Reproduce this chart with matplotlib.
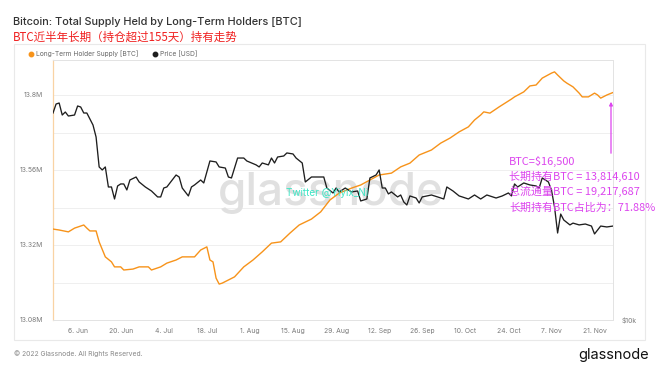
import matplotlib
matplotlib.use("Agg")
import matplotlib.pyplot as plt
from matplotlib.lines import Line2D
from matplotlib.patches import Rectangle, FancyArrowPatch
from matplotlib.ticker import FixedLocator, NullLocator
import pandas as pd

# ---------------- data ----------------
supply_dates = ["2022-05-29","2022-05-31","2022-06-03","2022-06-05","2022-06-08","2022-06-09","2022-06-10","2022-06-12",
    "2022-06-13","2022-06-15","2022-06-17","2022-06-18","2022-06-20","2022-06-21","2022-06-24","2022-06-26",
    "2022-06-29","2022-06-30","2022-07-03","2022-07-05","2022-07-08","2022-07-10","2022-07-14","2022-07-16",
    "2022-07-18","2022-07-19","2022-07-20","2022-07-21","2022-07-22","2022-07-23","2022-07-27","2022-07-30",
    "2022-08-02","2022-08-05","2022-08-08","2022-08-11","2022-08-14","2022-08-17","2022-08-21","2022-08-24",
    "2022-08-27","2022-08-30","2022-09-03","2022-09-06","2022-09-09","2022-09-12","2022-09-16","2022-09-19",
    "2022-09-22","2022-09-25","2022-09-29","2022-10-02","2022-10-05","2022-10-08","2022-10-11","2022-10-13",
    "2022-10-15","2022-10-16","2022-10-18","2022-10-21","2022-10-25","2022-10-26","2022-10-29","2022-10-31",
    "2022-11-02","2022-11-04","2022-11-07","2022-11-08","2022-11-09","2022-11-11","2022-11-12","2022-11-14",
    "2022-11-16","2022-11-17","2022-11-19","2022-11-21","2022-11-22","2022-11-23","2022-11-25","2022-11-27"]
supply_millions = [13.371,13.368,13.362,13.374,13.384,13.374,13.365,13.365,
    13.330,13.282,13.266,13.250,13.250,13.240,13.243,13.250,
    13.250,13.240,13.250,13.262,13.272,13.282,13.282,13.304,
    13.314,13.272,13.266,13.214,13.195,13.198,13.218,13.250,
    13.272,13.298,13.326,13.330,13.358,13.384,13.403,13.426,
    13.464,13.486,13.502,13.512,13.528,13.544,13.550,13.570,
    13.582,13.608,13.624,13.646,13.662,13.682,13.698,13.720,
    13.736,13.746,13.742,13.762,13.787,13.794,13.810,13.829,
    13.832,13.854,13.870,13.874,13.864,13.845,13.838,13.826,
    13.806,13.794,13.794,13.806,13.800,13.790,13.800,13.808]

price_dates = ["2022-05-29","2022-05-30","2022-05-31","2022-06-01","2022-06-02","2022-06-03","2022-06-05","2022-06-06",
    "2022-06-07","2022-06-08","2022-06-09","2022-06-10","2022-06-11","2022-06-12","2022-06-13","2022-06-14",
    "2022-06-15","2022-06-16","2022-06-17","2022-06-18","2022-06-19","2022-06-20","2022-06-21","2022-06-22",
    "2022-06-23","2022-06-25","2022-06-26","2022-06-28","2022-06-30","2022-07-02","2022-07-03","2022-07-04",
    "2022-07-05","2022-07-08","2022-07-09","2022-07-10","2022-07-12","2022-07-13","2022-07-14","2022-07-16",
    "2022-07-17","2022-07-19","2022-07-21","2022-07-22","2022-07-24","2022-07-25","2022-07-26","2022-07-28",
    "2022-07-30","2022-07-31","2022-08-03","2022-08-04","2022-08-05","2022-08-07","2022-08-08","2022-08-09",
    "2022-08-10","2022-08-12","2022-08-13","2022-08-15","2022-08-16","2022-08-18","2022-08-19","2022-08-21",
    "2022-08-23","2022-08-25","2022-08-26","2022-08-28","2022-08-29","2022-08-30","2022-09-01","2022-09-03",
    "2022-09-05","2022-09-06","2022-09-08","2022-09-09","2022-09-11","2022-09-12","2022-09-13","2022-09-14",
    "2022-09-15","2022-09-16","2022-09-18","2022-09-19","2022-09-20","2022-09-21","2022-09-22","2022-09-24",
    "2022-09-25","2022-09-26","2022-09-29","2022-10-01","2022-10-03","2022-10-04","2022-10-06","2022-10-08",
    "2022-10-09","2022-10-11","2022-10-13","2022-10-15","2022-10-17","2022-10-20","2022-10-22","2022-10-24",
    "2022-10-25","2022-10-26","2022-10-27","2022-10-29","2022-10-31","2022-11-02","2022-11-03","2022-11-04",
    "2022-11-06","2022-11-07","2022-11-08","2022-11-09","2022-11-10","2022-11-11","2022-11-13","2022-11-14",
    "2022-11-16","2022-11-18","2022-11-20","2022-11-21","2022-11-23","2022-11-25","2022-11-27"]
price_usd = [30140,31620,31790,29820,30300,29660,29820,31290,
    31120,30140,30140,29190,28270,26520,22610,22250,
    22610,20320,20320,19060,20430,20650,20650,20000,
    21090,21430,20870,20320,19890,19270,19270,20210,
    20320,21660,21430,20210,19370,20320,20540,21090,
    20760,23340,23220,22610,22480,21430,21320,23710,
    23710,23340,22860,22610,23090,22860,23710,23090,
    23840,23970,24360,24230,23710,23090,20870,21430,
    21430,21430,20210,19680,20210,19790,20210,19790,
    19890,18860,19060,21320,21660,22250,20210,20210,
    19580,19790,19270,19470,18760,18460,19370,19160,
    18660,19270,19470,19270,19060,20320,19890,19370,
    19270,19060,19470,19060,19470,19160,19370,19680,
    19370,20650,20320,20760,20540,20430,20210,21320,
    20870,20000,18260,15900,17590,17040,16600,16760,
    16600,16680,16500,15820,16500,16420,16500]

x_tick_dates = ["2022-06-06","2022-06-20","2022-07-04","2022-07-18","2022-08-01","2022-08-15","2022-08-29",
                "2022-09-12","2022-09-26","2022-10-10","2022-10-24","2022-11-07","2022-11-21"]
x_tick_labels = ["6. Jun","20. Jun","4. Jul","18. Jul","1. Aug","15. Aug","29. Aug",
                 "12. Sep","26. Sep","10. Oct","24. Oct","7. Nov","21. Nov"]
y_grid_values = [13.08, 13.20, 13.32, 13.44, 13.56, 13.68, 13.80, 13.92]
y_tick_labels = ["13.08M", "", "13.32M", "", "13.56M", "", "13.8M", ""]

title = "Bitcoin: Total Supply Held by Long-Term Holders [BTC]"
subtitle = "BTC近半年长期（持仓超过155天）持有走势"
legend_labels = ["Long-Term Holder Supply [BTC]", "Price [USD]"]
annotation_lines = ["BTC=$16,500", "长期持有BTC = 13,814,610", "总流通量BTC = 19,217,687", "长期持有BTC占比为：71.88%"]

# ---------------- style ----------------
ORANGE = "#f7931a"
BLACK = "#1e1e1e"
GRAY = "#7a7a7a"
MAGENTA = "#dc45ee"
LAT = ["Inter", "DejaVu Sans"]
CJK = ["Noto Sans CJK SC", "DejaVu Sans"]

W, H = 660, 372
fig = plt.figure(figsize=(W / 100, H / 100), dpi=100)
fig.patch.set_facecolor("white")

def fx(px):
    return px / W

def fy(py):
    return 1 - py / H

# panel border
fig.add_artist(Rectangle((fx(14), fy(340)), fx(645) - fx(14), fy(44) - fy(340),
                         transform=fig.transFigure, fill=False, edgecolor="#e9e9e9", lw=0.8))

ax = fig.add_axes([fx(53), fy(320), fx(613) - fx(53), fy(60) - fy(320)])
ax.set_facecolor("white")

sd = pd.to_datetime(supply_dates)
pdts = pd.to_datetime(price_dates)

ax.set_ylim(13.08, 13.08 + 260 * 0.0032)
ax.yaxis.set_major_locator(FixedLocator(y_grid_values))
ax.set_yticklabels(y_tick_labels)
ax.grid(axis="y", color="#efefef", lw=0.7)
ax.set_axisbelow(True)
ax.tick_params(axis="y", length=0, pad=7, labelsize=4.9, labelcolor=GRAY)
for lab in ax.get_yticklabels():
    lab.set_family(LAT)

ax.plot(sd, supply_millions, color=ORANGE, lw=1.0, zorder=3, solid_joinstyle="round")

xmin = pd.Timestamp("2022-05-29")
xmax = pd.Timestamp("2022-11-27")
ax.set_xlim(xmin, xmax)
ax.set_xticks(pd.to_datetime(x_tick_dates))
ax.set_xticklabels(x_tick_labels, family=LAT)
ax.tick_params(axis="x", length=0, pad=5.5, labelsize=4.9, labelcolor=GRAY)

for s in ["top", "right", "bottom"]:
    ax.spines[s].set_color("#e3e3e3")
    ax.spines[s].set_linewidth(0.7)
ax.spines["left"].set_color("#f9d3a4")
ax.spines["left"].set_linewidth(0.9)

# watermark
ax.text(0.496, 0.49, "glassnode", transform=ax.transAxes, ha="center", va="center",
        fontsize=33, color="#e0e0e0", family=LAT, fontweight="medium", zorder=1)

ax2 = ax.twinx()
ax2.set_yscale("log")
ax2.set_ylim(1e4, 10 ** (4 + 260 / 432))
ax2.plot(pdts, price_usd, color=BLACK, lw=0.95, zorder=3, solid_joinstyle="round")
ax2.yaxis.set_major_locator(FixedLocator([1e4]))
ax2.yaxis.set_minor_locator(NullLocator())
ax2.set_yticklabels(["$10k"], family=LAT)
ax2.tick_params(axis="y", length=0, pad=6, labelsize=4.9, labelcolor=GRAY)
for s in ["top", "right", "bottom", "left"]:
    ax2.spines[s].set_visible(False)
ax2.set_xlim(xmin, xmax)

# twitter text
ax2.text(0.49, 0.488, "Twitter @Yiyix_Ni", transform=ax.transAxes, ha="center", va="center",
         fontsize=7.2, color="#3fe6c6", family=LAT, zorder=4)

# titles
fig.text(fx(13), fy(22), title, fontsize=7.9, color="#333333", family=LAT, fontweight="medium",
         ha="left", va="center")
fig.text(fx(13), fy(37), subtitle, fontsize=8.3, color="#f02020", family=CJK, ha="left", va="center")

# legend
leg_colors = [ORANGE, BLACK]
leg_x = [31, 155]
for xx, col, lab in zip(leg_x, leg_colors, legend_labels):
    fig.add_artist(Line2D([fx(xx)], [fy(54)], marker="o", markersize=3.2, color=col,
                          transform=fig.transFigure, linestyle="none"))
    fig.text(fx(xx + 5), fy(54), lab, fontsize=4.8, color="#666666", family=LAT, ha="left", va="center")

# annotation
for i, line in enumerate(annotation_lines):
    fig.text(fx(509), fy(161 + 15.4 * i), line, fontsize=7.9, color=MAGENTA, family=CJK,
             ha="left", va="center")

fig.add_artist(FancyArrowPatch((fx(611), fy(156)), (fx(611), fy(99)),
               transform=fig.transFigure, arrowstyle="-|>", mutation_scale=5, color=MAGENTA, lw=0.9))

# footer
fig.text(fx(14), fy(354), "© 2022 Glassnode. All Rights Reserved.", fontsize=4.9, color="#888888",
         family=LAT, ha="left", va="center")
fig.text(fx(649), fy(355), "glassnode", fontsize=10.5, color="#111111", family=LAT, ha="right", va="center")

fig.savefig("out.png", dpi=100, facecolor="white")
